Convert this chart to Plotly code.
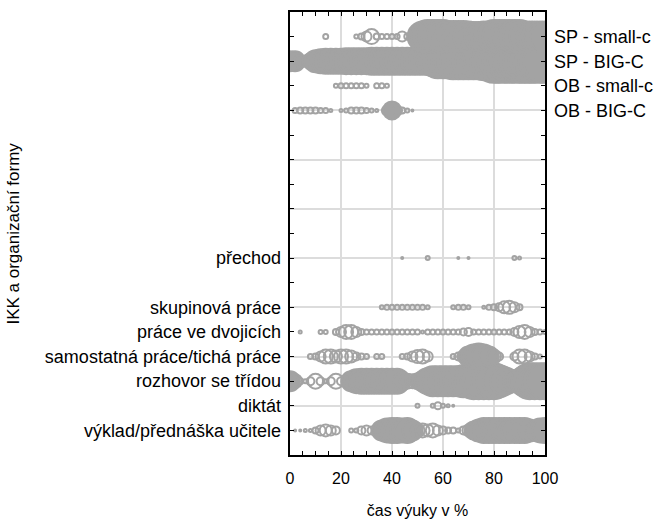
import plotly.graph_objects as go

# time of lesson in % (bubble positions along x)
x_percent = list(range(0, 101, 2))

# categories (bottom block, labels on the left)
left_labels = ["výklad/přednáška učitele", "diktát", "rozhovor se třídou",
               "samostatná práce/tichá práce", "práce ve dvojicích",
               "skupinová práce", "", "přechod"]
# categories (top block, labels on the right)
right_labels = ["OB - BIG-C", "OB - small-c", "SP - BIG-C", "SP - small-c"]

# bubble magnitudes, one value per x_percent step
vyklad = [0, 2, 2, 3, 3, 6, 10, 12, 10, 8, 0, 0, 4, 4, 8, 10, 8, 0, 20, 24, 25,
          25, 24, 25, 20, 14, 14, 12, 14, 10, 8, 6, 6, 4, 8, 12, 18, 22, 25, 25,
          25, 25, 25, 25, 25, 25, 25, 22, 18, 24, 25]
diktat = [0] * 25 + [4, 0, 0, 4, 7, 4, 3, 2] + [0] * 18
rozhovor = [20, 14, 6, 4, 8, 15, 8, 4, 8, 15, 8, 6, 20, 24, 25, 25, 25,
            25, 25, 25, 25, 25, 18, 15, 14, 16, 20, 26, 30, 30, 30, 30, 30, 30,
            32, 32, 36, 36, 36, 36, 36, 32, 28, 24, 22, 24, 30, 36, 36, 36, 36]
samostatna = [0, 0, 0, 0, 5, 6, 10, 14, 14, 12, 14, 14, 12, 8, 6, 5, 0, 5, 5, 0,
              0, 0, 5, 6, 10, 13, 14, 10, 0, 0, 0, 0, 5, 8, 12, 20, 24, 26, 24,
              20, 14, 8, 0, 0, 8, 14, 14, 10, 6, 4, 0]
dvojice = [0, 0, 3, 0, 0, 0, 4, 4, 0, 6, 10, 14, 14, 10, 6, 5, 5, 5, 5, 5, 5,
           5, 5, 5, 5, 5, 3, 5, 5, 5, 5, 5, 5, 5, 7, 8, 5, 5, 5, 5, 5, 5, 5, 5,
           8, 12, 14, 10, 6, 5, 4]
skupinova = [0] * 18 + [4, 5, 5, 5, 5, 5, 5, 5, 5, 4, 0, 0, 0, 0, 4, 5, 5, 4, 0,
                        0, 3, 5, 6, 8, 12, 13, 10, 6, 0, 0, 0, 0, 0]
prechod = [0] * 22 + [2, 0, 0, 0, 0, 4, 0, 0, 0, 0, 0, 2, 0, 2, 0, 0, 0, 0, 0, 0,
                      0, 0, 4, 3, 0, 0, 0, 0, 0]
ob_big_c = [0, 5, 6, 6, 6, 6, 5, 5, 3, 0, 3, 4, 6, 6, 6, 5, 4, 3, 0, 10, 18, 10,
            6, 4, 2] + [0] * 26
ob_small_c = [0] * 9 + [4, 5, 5, 5, 5, 5, 4, 0, 5, 5, 4] + [0] * 31
sp_big_c = [20, 20, 12, 6, 16, 22, 24, 25, 25, 25, 25, 26, 26, 26, 26, 26, 27,
            27, 27, 27, 27, 27, 27, 27, 27, 27, 27, 27, 30, 34, 34, 34, 36, 36,
            36, 36, 36, 36, 38, 38, 43, 43, 43, 43, 43, 43, 43, 43, 43, 43, 43]
sp_small_c = [0, 0, 0, 0, 0, 0, 0, 5, 0, 0, 0, 0, 0, 4, 6, 10, 15, 6, 5, 5, 5, 5,
              10, 6, 8, 14, 30, 33, 33, 33, 33, 31, 31, 31, 31, 30, 29, 29, 30,
              30, 33, 33, 33, 33, 33, 33, 30, 30, 30, 30, 30]

left_series = [vyklad, diktat, rozhovor, samostatna, dvojice, skupinova, [], prechod]
right_series = [ob_big_c, ob_small_c, sp_big_c, sp_small_c]

GRAY = "#a3a3a3"
FONT = "Liberation Sans, Arial, sans-serif"
N_SLOTS = 18
RIGHT_START = 14

fig = go.Figure()
# base subplot (grid and ticks)
fig.add_trace(go.Scatter(x=[], y=[], showlegend=False, hoverinfo="skip"))


def add_row(values, slot, axis):
    xs = [x for x, v in zip(x_percent, values) if v > 0]
    ss = [v for v in values if v > 0]
    if not xs:
        return
    fig.add_trace(go.Scatter(
        x=xs, y=[slot] * len(xs), yaxis=axis, mode="markers",
        showlegend=False, cliponaxis=True,
        marker=dict(size=ss, color=GRAY,
                    symbol=["circle-open" if s < 16 else "circle" for s in ss],
                    line=dict(color=GRAY, width=2), opacity=1)))


for i, vals in enumerate(left_series):
    add_row(vals, i + 1, "y2")
for i, vals in enumerate(right_series):
    add_row(vals, RIGHT_START + i, "y3")

tickfont = dict(family=FONT, size=16, color="black")
catfont = dict(family=FONT, size=18, color="black")

fig.update_layout(
    width=657, height=520,
    margin=dict(l=290, r=112, t=12, b=65, autoexpand=False),
    paper_bgcolor="white", plot_bgcolor="white",
    font=dict(family=FONT, size=16, color="black"),
    xaxis=dict(range=[0, 100], tickvals=[0, 20, 40, 60, 80, 100],
               showgrid=True, gridcolor="#dcdcdc", gridwidth=2,
               ticks="inside", ticklen=4, tickcolor="black",
               showline=True, linecolor="black", linewidth=2, mirror="ticks",
               zeroline=False, tickfont=tickfont, ticklabelstandoff=8,
               automargin=False,
               minor=dict(dtick=5, tick0=0, ticks="inside", ticklen=4,
                          tickcolor="black", showgrid=False),
               title=dict(text="čas výuky v %", font=tickfont, standoff=19)),
    yaxis=dict(range=[0, N_SLOTS], tickvals=list(range(0, N_SLOTS + 1, 2)),
               showgrid=True, gridcolor="#dcdcdc", gridwidth=2,
               ticks="inside", ticklen=4, tickcolor="black",
               showticklabels=False, automargin=False,
               showline=True, linecolor="black", linewidth=2, mirror="ticks",
               zeroline=False,
               minor=dict(dtick=1, tick0=0, ticks="inside", ticklen=4,
                          tickcolor="black", showgrid=False)),
    yaxis2=dict(range=[0, N_SLOTS], overlaying="y", side="left",
                tickvals=list(range(1, len(left_labels) + 1)),
                ticktext=left_labels, ticks="", showgrid=False,
                zeroline=False, showline=False, tickfont=catfont,
                ticklabelstandoff=8, automargin=False),
    yaxis3=dict(range=[0, N_SLOTS], overlaying="y", side="right",
                tickvals=list(range(RIGHT_START, RIGHT_START + len(right_labels))),
                ticktext=right_labels, ticks="", showgrid=False,
                zeroline=False, showline=False, tickfont=catfont,
                ticklabelstandoff=8, automargin=False),
    annotations=[dict(text="IKK a organizační formy", textangle=-90,
                      xref="paper", yref="paper", x=-1.086, y=0.5,
                      xanchor="center", yanchor="middle", showarrow=False,
                      font=dict(family=FONT, size=17, color="black"))],
)

fig.write_html("out.html")
